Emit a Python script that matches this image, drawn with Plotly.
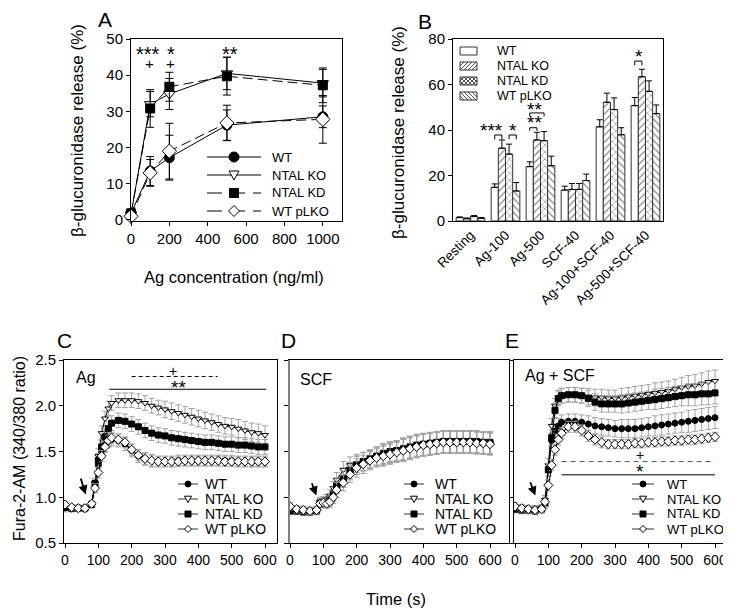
import plotly.graph_objects as go

# Page body has an 8 px margin, so the figure is sized to fill the rest of the window.
OFF = 8
W, H = 731 - OFF, 612 - OFF
FONT = "Arial, Liberation Sans, sans-serif"

# ---------------- Panel A data ----------------
ag_conc = [0, 100, 200, 500, 1000]
A_WT = [1.8, 13.5, 17.2, 26.2, 28.5]
A_WT_err = [0.8, 4.0, 6.2, 4.2, 3.0]
A_KO = [1.5, 32.0, 34.8, 40.5, 37.8]
A_KO_err = [0.8, 3.5, 4.3, 4.5, 3.8]
A_KD = [1.8, 30.8, 36.8, 39.7, 37.2]
A_KD_err = [0.8, 5.2, 4.0, 5.2, 4.8]
A_pLKO = [1.0, 13.0, 19.0, 26.8, 27.8]
A_pLKO_err = [0.6, 3.7, 7.7, 4.9, 6.6]

# ---------------- Panel B data ----------------
B_cats = ["Resting", "Ag-100", "Ag-500", "SCF-40", "Ag-100+SCF-40", "Ag-500+SCF-40"]
B_WT = [1.5, 14.8, 23.9, 13.6, 41.4, 50.7]
B_WT_err = [0.3, 1.5, 2.1, 1.7, 3.1, 3.6]
B_KO = [1.0, 32.0, 35.6, 13.9, 52.2, 63.4]
B_KO_err = [0.3, 3.6, 3.4, 2.6, 4.0, 3.3]
B_KD = [2.0, 29.4, 35.3, 13.9, 49.0, 57.0]
B_KD_err = [0.4, 4.4, 4.0, 2.6, 5.1, 4.6]
B_pLKO = [1.2, 13.2, 24.3, 17.8, 37.9, 47.2]
B_pLKO_err = [0.3, 3.7, 4.2, 2.8, 3.1, 3.8]

# ---------------- Panels C/D/E data ----------------
time_s = [0, 20, 40, 60, 80, 90, 100, 110, 120, 130, 140, 160, 180, 200, 220, 240, 260,
          280, 300, 320, 340, 360, 380, 400, 420, 440, 460, 480, 500, 520, 540, 560, 580, 600]

C_WT = [0.90, 0.88, 0.88, 0.88, 0.92, 1.12, 1.35, 1.50, 1.57, 1.61, 1.63, 1.62, 1.58, 1.51, 1.45, 1.42, 1.40,
        1.39, 1.39, 1.39, 1.40, 1.40, 1.40, 1.40, 1.40, 1.40, 1.40, 1.40, 1.40, 1.39, 1.39, 1.39, 1.39, 1.39]
C_KO = [0.88, 0.87, 0.88, 0.87, 0.92, 1.15, 1.45, 1.70, 1.86, 1.97, 2.03, 2.06, 2.06, 2.06, 2.05, 2.03, 2.00,
        1.98, 1.96, 1.94, 1.92, 1.90, 1.88, 1.86, 1.84, 1.82, 1.80, 1.78, 1.77, 1.75, 1.73, 1.71, 1.70, 1.68]
C_KD = [0.89, 0.88, 0.88, 0.88, 0.92, 1.15, 1.40, 1.55, 1.66, 1.75, 1.81, 1.84, 1.83, 1.80, 1.77, 1.73, 1.70,
        1.68, 1.67, 1.65, 1.64, 1.63, 1.62, 1.61, 1.60, 1.60, 1.59, 1.58, 1.58, 1.57, 1.57, 1.56, 1.55, 1.55]
C_pLKO = [0.92, 0.89, 0.88, 0.88, 0.93, 1.10, 1.27, 1.45, 1.55, 1.62, 1.65, 1.63, 1.60, 1.52, 1.46, 1.42, 1.40,
          1.39, 1.39, 1.39, 1.39, 1.40, 1.40, 1.40, 1.40, 1.40, 1.40, 1.39, 1.39, 1.39, 1.39, 1.39, 1.39, 1.39]
C_WT_err = [0.03, 0.03, 0.03, 0.03, 0.03, 0.05, 0.07, 0.07, 0.07, 0.07, 0.07, 0.07, 0.07, 0.07, 0.07, 0.07, 0.07,
            0.06, 0.06, 0.06, 0.06, 0.06, 0.06, 0.06, 0.06, 0.06, 0.06, 0.06, 0.06, 0.06, 0.06, 0.06, 0.06, 0.06]
C_KO_err = [0.04, 0.03, 0.03, 0.03, 0.03, 0.05, 0.08, 0.08, 0.08, 0.08, 0.08, 0.08, 0.08, 0.08, 0.08, 0.08, 0.08,
            0.08, 0.09, 0.09, 0.09, 0.09, 0.09, 0.09, 0.09, 0.09, 0.09, 0.09, 0.09, 0.10, 0.10, 0.10, 0.10, 0.10]
C_KD_err = [0.03, 0.03, 0.03, 0.03, 0.03, 0.05, 0.08, 0.08, 0.08, 0.08, 0.08, 0.08, 0.08, 0.08, 0.08, 0.08, 0.08,
            0.08, 0.08, 0.08, 0.08, 0.08, 0.08, 0.08, 0.08, 0.08, 0.08, 0.08, 0.08, 0.08, 0.08, 0.08, 0.08, 0.08]
C_pLKO_err = [0.03, 0.03, 0.03, 0.03, 0.03, 0.05, 0.06, 0.06, 0.06, 0.06, 0.06, 0.06, 0.06, 0.06, 0.06, 0.06, 0.06,
              0.05, 0.05, 0.05, 0.05, 0.05, 0.05, 0.05, 0.05, 0.05, 0.05, 0.05, 0.05, 0.05, 0.05, 0.05, 0.05, 0.05]

D_WT = [0.86, 0.85, 0.85, 0.85, 0.86, 0.94, 0.95, 0.95, 0.97, 1.03, 1.12, 1.20, 1.28, 1.35, 1.39, 1.42, 1.45,
        1.47, 1.49, 1.51, 1.52, 1.54, 1.56, 1.57, 1.58, 1.59, 1.60, 1.60, 1.60, 1.61, 1.60, 1.60, 1.59, 1.59]
D_KO = [0.87, 0.86, 0.86, 0.85, 0.86, 0.95, 0.96, 0.98, 1.02, 1.10, 1.19, 1.30, 1.35, 1.37, 1.39, 1.41, 1.44,
        1.46, 1.48, 1.50, 1.52, 1.54, 1.56, 1.57, 1.58, 1.59, 1.60, 1.60, 1.60, 1.60, 1.60, 1.60, 1.59, 1.59]
D_KD = [0.85, 0.85, 0.84, 0.84, 0.85, 0.94, 0.95, 0.96, 0.98, 1.04, 1.13, 1.20, 1.29, 1.35, 1.39, 1.42, 1.45,
        1.48, 1.50, 1.51, 1.53, 1.55, 1.57, 1.58, 1.59, 1.60, 1.61, 1.61, 1.61, 1.61, 1.61, 1.61, 1.60, 1.60]
D_pLKO = [0.90, 0.87, 0.86, 0.85, 0.86, 0.93, 0.94, 0.93, 0.95, 1.00, 1.08, 1.16, 1.25, 1.32, 1.36, 1.40, 1.43,
          1.45, 1.47, 1.49, 1.51, 1.53, 1.55, 1.57, 1.58, 1.59, 1.60, 1.60, 1.60, 1.60, 1.60, 1.59, 1.59, 1.58]
D_err = [0.04, 0.04, 0.04, 0.04, 0.04, 0.05, 0.05, 0.05, 0.06, 0.07, 0.08, 0.09, 0.09, 0.10, 0.10, 0.10, 0.10,
         0.11, 0.11, 0.11, 0.12, 0.12, 0.12, 0.12, 0.12, 0.12, 0.12, 0.12, 0.12, 0.12, 0.12, 0.12, 0.12, 0.12]

E_WT = [0.88, 0.87, 0.87, 0.86, 0.88, 0.95, 1.30, 1.62, 1.72, 1.78, 1.82, 1.83, 1.83, 1.82, 1.80, 1.78, 1.77,
        1.76, 1.75, 1.75, 1.75, 1.75, 1.76, 1.77, 1.78, 1.79, 1.80, 1.81, 1.82, 1.83, 1.84, 1.85, 1.86, 1.87]
E_KO = [0.88, 0.87, 0.87, 0.87, 0.88, 0.97, 1.35, 1.78, 2.00, 2.09, 2.11, 2.12, 2.12, 2.11, 2.10, 2.09, 2.09,
        2.08, 2.08, 2.09, 2.10, 2.11, 2.12, 2.13, 2.14, 2.15, 2.16, 2.18, 2.20, 2.21, 2.22, 2.24, 2.26, 2.27]
E_KD = [0.87, 0.86, 0.86, 0.85, 0.87, 0.93, 1.30, 1.65, 1.95, 2.08, 2.11, 2.12, 2.12, 2.11, 2.08, 2.04, 2.02,
        2.02, 2.02, 2.02, 2.03, 2.04, 2.05, 2.06, 2.07, 2.08, 2.09, 2.10, 2.11, 2.12, 2.12, 2.13, 2.13, 2.14]
E_pLKO = [0.90, 0.88, 0.87, 0.86, 0.87, 0.95, 1.13, 1.35, 1.52, 1.63, 1.70, 1.77, 1.77, 1.73, 1.67, 1.63, 1.60,
          1.58, 1.58, 1.58, 1.58, 1.59, 1.59, 1.60, 1.60, 1.61, 1.61, 1.62, 1.62, 1.63, 1.63, 1.64, 1.65, 1.66]
E_err = [0.04, 0.04, 0.04, 0.04, 0.04, 0.05, 0.07, 0.08, 0.08, 0.08, 0.08, 0.08, 0.08, 0.08, 0.09, 0.09, 0.09,
         0.09, 0.09, 0.10, 0.10, 0.10, 0.10, 0.10, 0.11, 0.11, 0.11, 0.11, 0.11, 0.12, 0.12, 0.12, 0.12, 0.12]
E_pLKO_err = [0.04, 0.04, 0.04, 0.04, 0.04, 0.05, 0.06, 0.06, 0.06, 0.06, 0.06, 0.06, 0.06, 0.06, 0.06, 0.06, 0.06,
              0.05, 0.05, 0.05, 0.05, 0.05, 0.05, 0.05, 0.05, 0.05, 0.05, 0.05, 0.05, 0.05, 0.05, 0.05, 0.05, 0.05]

series_names = ["WT", "NTAL KO", "NTAL KD", "WT pLKO"]


# pixel (in reference window coordinates) -> paper fraction
def fx(px):
    return (px - OFF) / W


def fy(py):
    return 1 - (py - OFF) / H


fig = go.Figure()

# ---------- Panel A traces ----------
A_styles = [
    dict(symbol="circle", color="black", size=10),
    dict(symbol="triangle-down", color="white", size=10),
    dict(symbol="square", color="black", size=9),
    dict(symbol="diamond", color="white", size=11),
]
A_dash = ["solid", "solid", "10px,5px", "10px,5px"]
A_vals = [(A_WT, A_WT_err), (A_KO, A_KO_err), (A_KD, A_KD_err), (A_pLKO, A_pLKO_err)]
for name, (v, e), st, dsh in zip(series_names, A_vals, A_styles, A_dash):
    fig.add_trace(go.Scatter(
        x=ag_conc, y=v, name=name, mode="lines+markers", xaxis="x", yaxis="y",
        line=dict(color="black", width=1, dash=dsh),
        marker=dict(symbol=st["symbol"], color=st["color"], size=st["size"],
                    line=dict(color="black", width=1)),
        error_y=dict(type="data", array=e, visible=True, color="black", thickness=1, width=4),
        cliponaxis=False,
    ))

# ---------- Panel B traces ----------
B_patterns = ["", "/", "x", "\\"]
B_vals = [(B_WT, B_WT_err), (B_KO, B_KO_err), (B_KD, B_KD_err), (B_pLKO, B_pLKO_err)]
for name, (v, e), pat in zip(series_names, B_vals, B_patterns):
    fig.add_trace(go.Bar(
        x=list(range(len(B_cats))), y=v, name=name, xaxis="x2", yaxis="y2",
        marker=dict(color="white", line=dict(color="#333333", width=1),
                    pattern=dict(shape=pat, fgcolor="black", bgcolor="white", size=5, solidity=0.22)),
        error_y=dict(type="data", array=e, arrayminus=[0] * len(e), symmetric=False,
                     visible=True, color="black", thickness=1, width=3),
    ))

# ---------- Panels C, D, E ----------
ts_styles = [
    dict(symbol="circle", color="black", size=6),
    dict(symbol="triangle-down", color="white", size=6),
    dict(symbol="square", color="black", size=6),
    dict(symbol="diamond", color="white", size=7),
]
panels = [
    ("x3", "y3", [(C_WT, C_WT_err), (C_KO, C_KO_err), (C_KD, C_KD_err), (C_pLKO, C_pLKO_err)]),
    ("x4", "y4", [(D_WT, D_err), (D_KO, D_err), (D_KD, D_err), (D_pLKO, D_err)]),
    ("x5", "y5", [(E_WT, E_err), (E_KO, E_err), (E_KD, E_err), (E_pLKO, E_pLKO_err)]),
]
for xa, ya, vals in panels:
    for name, (v, e), st in zip(series_names, vals, ts_styles):
        fig.add_trace(go.Scatter(
            x=time_s, y=v, name=name, mode="lines+markers", xaxis=xa, yaxis=ya,
            line=dict(color="black", width=1),
            marker=dict(symbol=st["symbol"], color=st["color"], size=st["size"],
                        line=dict(color="black", width=1)),
            error_y=dict(type="data", array=e, visible=True, color="#a0a0a0", thickness=1, width=3),
        ))


def axis(size=15, **kw):
    d = dict(showline=True, linecolor="black", linewidth=1, mirror=True, ticks="outside",
             ticklen=4, tickcolor="black", showgrid=False, zeroline=False,
             tickfont=dict(family=FONT, size=size, color="black"))
    d.update(kw)
    return d


t_ticks = [0, 100, 200, 300, 400, 500, 600]
r_ticks = [0.5, 1.0, 1.5, 2.0, 2.5]
fig.update_layout(
    width=W, height=H, margin=dict(l=0, r=0, t=0, b=0, autoexpand=False),
    paper_bgcolor="white", plot_bgcolor="white", showlegend=False,
    font=dict(family=FONT, color="black"),
    barmode="group", bargap=0.18, bargroupgap=0,
    xaxis=axis(15, domain=[fx(131), fx(342)], range=[0, 1100], tickvals=[0, 200, 400, 600, 800, 1000], anchor="y"),
    yaxis=axis(15, domain=[fy(221), fy(39)], range=[-0.3, 50], tickvals=[0, 10, 20, 30, 40, 50], anchor="x"),
    xaxis2=axis(13.5, domain=[fx(453), fx(663)], range=[-0.5, 5.5], tickvals=list(range(6)),
                ticktext=B_cats, tickangle=-45, anchor="y2", ticks=""),
    yaxis2=axis(15, domain=[fy(221), fy(39)], range=[0, 80], tickvals=[0, 20, 40, 60, 80], anchor="x2"),
    xaxis3=axis(14, domain=[fx(64), fx(277)], range=[-3, 636], tickvals=t_ticks, anchor="y3"),
    yaxis3=axis(15, domain=[fy(543), fy(360)], range=[0.5, 2.5], tickvals=r_ticks, tickformat=".1f", anchor="x3"),
    xaxis4=axis(14, domain=[fx(289), fx(509)], range=[-3, 657], tickvals=t_ticks, anchor="y4"),
    yaxis4=axis(15, domain=[fy(543), fy(360)], range=[0.5, 2.5], tickvals=r_ticks, showticklabels=False, anchor="x4"),
    xaxis5=axis(14, domain=[fx(514), fx(727)], range=[-3, 636], tickvals=t_ticks, anchor="y5"),
    yaxis5=axis(15, domain=[fy(543), fy(360)], range=[0.5, 2.5], tickvals=r_ticks, showticklabels=False, anchor="x5"),
)

ann = []
shapes = []


def txt(x, y, t, size=14, xref="paper", yref="paper", angle=0, xanchor="center", yanchor="middle"):
    ann.append(dict(x=x, y=y, text=t, xref=xref, yref=yref, showarrow=False, textangle=angle,
                    xanchor=xanchor, yanchor=yanchor,
                    font=dict(size=size, family=FONT, color="black")))


# Panel letters
txt(fx(105), fy(20), "A", 21)
txt(fx(425), fy(21), "B", 21)
txt(fx(64), fy(340), "C", 21)
txt(fx(288), fy(340), "D", 21)
txt(fx(512), fy(340), "E", 21)

# Axis titles
txt(fx(78), fy(131), "β-glucuronidase release (%)", 17, angle=-90)
txt(fx(398), fy(133), "β-glucuronidase release (%)", 17, angle=-90)
txt(fx(234), fy(277), "Ag concentration (ng/ml)", 16.5)
txt(fx(19), fy(449), "Fura-2-AM (340/380 ratio)", 16, angle=-90)
txt(fx(396), fy(599), "Time (s)", 16.5)

# Panel A significance marks
for xv, s in [(88, "***"), (208, "*"), (514, "**")]:
    txt(xv, 45.8, s, 20, xref="x", yref="y")
for xv in [99, 208]:
    txt(xv, 43.2, "+", 15, xref="x", yref="y")

# Panel B brackets and stars
gw = 1 - 0.18
offs = [-3 * gw / 8, -gw / 8, gw / 8, 3 * gw / 8]


def bracket(g, i, j, ytop, yleg):
    x1 = g + offs[i]
    x2 = g + offs[j]
    shapes.append(dict(type="path", xref="x2", yref="y2",
                       path=f"M {x1},{yleg} L {x1},{ytop} L {x2},{ytop} L {x2},{yleg}",
                       line=dict(color="black", width=1)))


bracket(1, 0, 1, 37.8, 35.9)
bracket(1, 2, 3, 37.8, 35.9)
bracket(2, 0, 1, 41.0, 39.7)
bracket(2, 0, 2, 47.5, 46.0)
bracket(5, 0, 1, 70.3, 68.4)
txt(1 + offs[1] + 0.1, 39.6, "***", 19, xref="x2", yref="y2", xanchor="right")
txt(1.205, 39.6, "*", 19, xref="x2", yref="y2")
txt(1.84, 43.2, "**", 19, xref="x2", yref="y2")
txt(1.84, 49.2, "**", 19, xref="x2", yref="y2")
txt(4.8, 72.2, "*", 19, xref="x2", yref="y2")

# Panel C annotations
txt(27, 2.31, "Ag", 16, xref="x3", yref="y3", xanchor="left")
shapes.append(dict(type="line", xref="x3", yref="y3", x0=200, x1=458, y0=2.32, y1=2.32,
                   line=dict(color="black", width=1, dash="4px,3px")))
txt(325, 2.38, "+", 14, xref="x3", yref="y3")
shapes.append(dict(type="line", xref="x3", yref="y3", x0=133, x1=604, y0=2.18, y1=2.18,
                   line=dict(color="black", width=1)))
txt(339, 2.20, "**", 19, xref="x3", yref="y3")

# Panel D annotations
txt(24, 2.29, "SCF", 16, xref="x4", yref="y4", xanchor="left")
# D's left axis is drawn as a heavier grey line in the original
shapes.append(dict(type="line", xref="paper", yref="paper", x0=fx(289), x1=fx(289),
                   y0=fy(543), y1=fy(360), line=dict(color="#808080", width=2)))

# Panel E annotations
txt(24, 2.33, "Ag + SCF", 16, xref="x5", yref="y5", xanchor="left")
shapes.append(dict(type="line", xref="x5", yref="y5", x0=140, x1=600, y0=1.39, y1=1.39,
                   line=dict(color="#555555", width=1, dash="5px,4px")))
txt(375, 1.46, "+", 14, xref="x5", yref="y5")
shapes.append(dict(type="line", xref="x5", yref="y5", x0=140, x1=600, y0=1.245, y1=1.245,
                   line=dict(color="black", width=1)))
txt(375, 1.28, "*", 19, xref="x5", yref="y5")

# Stimulus arrows
for xa, ya, x_tail, y_tail, x_head, y_head in [("x3", "y3", 46, 1.22, 62, 1.03),
                                               ("x4", "y4", 64, 1.17, 79, 1.02),
                                               ("x5", "y5", 44, 1.18, 61, 1.02)]:
    ann.append(dict(x=x_head, y=y_head, ax=x_tail, ay=y_tail, xref=xa, yref=ya, axref=xa, ayref=ya,
                    showarrow=True, arrowhead=2, arrowsize=1, arrowwidth=1.8, arrowcolor="black",
                    text=""))


# ---------- Manually drawn legends (glyph + label) ----------
def marker_shape(kind, cx, cy, r, fill):
    x0, x1 = fx(cx - r), fx(cx + r)
    y0, y1 = fy(cy + r), fy(cy - r)
    line = dict(color="black", width=1)
    if kind == "circle":
        shapes.append(dict(type="circle", xref="paper", yref="paper", x0=x0, x1=x1, y0=y0, y1=y1,
                           fillcolor=fill, line=line))
    elif kind == "square":
        shapes.append(dict(type="rect", xref="paper", yref="paper", x0=x0, x1=x1, y0=y0, y1=y1,
                           fillcolor=fill, line=line))
    elif kind == "triangle-down":
        p = f"M {fx(cx - r)},{fy(cy - r * 0.8)} L {fx(cx + r)},{fy(cy - r * 0.8)} L {fx(cx)},{fy(cy + r)} Z"
        shapes.append(dict(type="path", xref="paper", yref="paper", path=p, fillcolor=fill, line=line))
    elif kind == "diamond":
        p = f"M {fx(cx - r)},{fy(cy)} L {fx(cx)},{fy(cy - r)} L {fx(cx + r)},{fy(cy)} L {fx(cx)},{fy(cy + r)} Z"
        shapes.append(dict(type="path", xref="paper", yref="paper", path=p, fillcolor=fill, line=line))


kinds = [("circle", "black"), ("triangle-down", "white"), ("square", "black"), ("diamond", "white")]


def line_legend(rows, x_l, x_r, x_text, r_list, dashes, fsize, lcolor="black"):
    xm = (x_l + x_r) / 2
    for name, cy, (kind, fill), r, dsh in zip(series_names, rows, kinds, r_list, dashes):
        shapes.append(dict(type="line", xref="paper", yref="paper", x0=fx(x_l), x1=fx(x_r),
                           y0=fy(cy), y1=fy(cy), line=dict(color=lcolor, width=1, dash=dsh)))
        marker_shape(kind, xm, cy, r, fill)
        txt(fx(x_text), fy(cy), name, fsize, xanchor="left")


# Panel A legend
line_legend([157, 175, 193, 211], 207, 261, 270, [5, 5, 4.5, 5.5],
            ["solid", "solid", "15px,8px", "15px,8px"], 13)
# Panels C, D, E legends
ts_rows = [484, 499, 514, 529]
line_legend(ts_rows, 178, 198, 203, [3, 3.5, 3, 3.5], ["solid"] * 4, 14, "#333333")
line_legend(ts_rows, 404, 424, 433, [3, 3.5, 3, 3.5], ["solid"] * 4, 14, "#333333")
line_legend(ts_rows, 632, 654, 665, [3, 3.5, 3, 3.5], ["solid"] * 4, 13, "#333333")


# Panel B legend: hatched boxes
def hatch_box(x0, y0, x1, y1, kind, step=4.0):
    segs = []
    if kind in ("/", "x"):
        c = x0 + y0
        while c <= x1 + y1:
            xa, xb = max(x0, c - y1), min(x1, c - y0)
            if xb > xa:
                segs.append(((xa, c - xa), (xb, c - xb)))
            c += step
    if kind in ("\\", "x"):
        c = x0 - y1
        while c <= x1 - y0:
            xa, xb = max(x0, y0 + c), min(x1, y1 + c)
            if xb > xa:
                segs.append(((xa, xa - c), (xb, xb - c)))
            c += step
    if segs:
        p = " ".join(f"M {fx(a[0])},{fy(a[1])} L {fx(b[0])},{fy(b[1])}" for a, b in segs)
        shapes.append(dict(type="path", xref="paper", yref="paper", path=p,
                           line=dict(color="#222222", width=0.8)))
    shapes.append(dict(type="rect", xref="paper", yref="paper", x0=fx(x0), x1=fx(x1),
                       y0=fy(y1), y1=fy(y0), line=dict(color="#333333", width=1)))


for name, cy, pat in zip(series_names, [51, 66, 81, 96], B_patterns):
    hatch_box(460, cy - 4, 477, cy + 4, pat)
    txt(fx(495), fy(cy), name, 12.5, xanchor="left")

fig.update_layout(annotations=ann, shapes=shapes)
fig.write_html("out.html")
